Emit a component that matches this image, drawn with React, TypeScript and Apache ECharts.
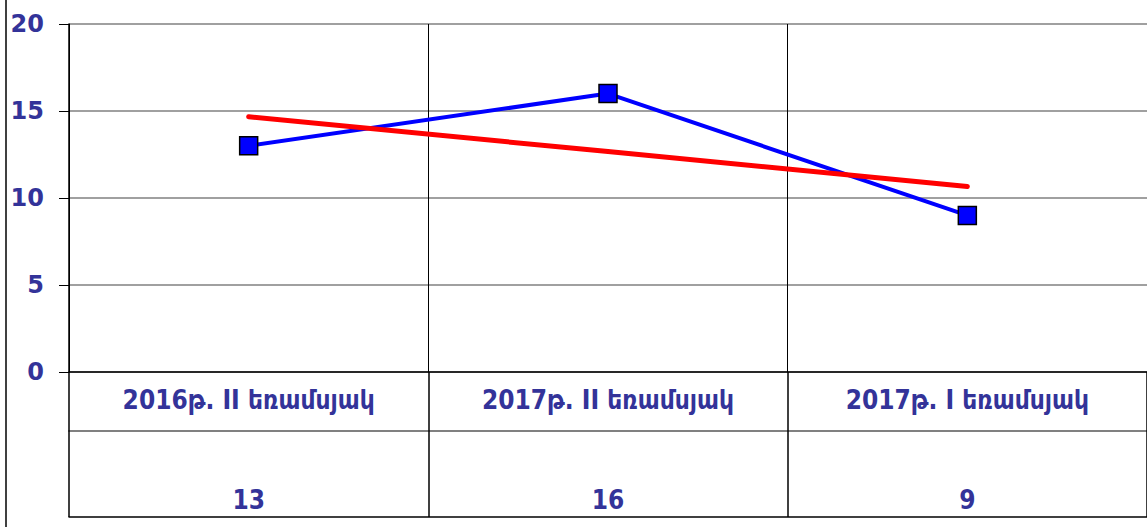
import React, { useEffect, useRef } from "react";
import * as echarts from "echarts";

// Reporting periods and the count recorded in each
const categories = ["2016թ. II եռամսյակ", "2017թ. II եռամսյակ", "2017թ. I եռամսյակ"];
const values = [13, 16, 9];

// Y axis range
const yMin = 0;
const yMax = 20;
const yStep = 5;

// Least-squares linear trend over the category index
function linearTrend(ys: number[]): number[] {
  const n = ys.length;
  const xs = ys.map((_, i) => i);
  const mx = xs.reduce((a, b) => a + b, 0) / n;
  const my = ys.reduce((a, b) => a + b, 0) / n;
  let num = 0;
  let den = 0;
  for (let i = 0; i < n; i++) {
    num += (xs[i] - mx) * (ys[i] - my);
    den += (xs[i] - mx) * (xs[i] - mx);
  }
  const slope = num / den;
  const icpt = my - slope * mx;
  return xs.map((x) => +(icpt + slope * x).toFixed(3));
}

const W = 1147;
const H = 527;
const GRID_LEFT = 69;
const GRID_TOP = 24;
const GRID_W = 1083;
const GRID_H = 348;
const ROW1 = 59; // height of the category row under the plot
const TABLE_H = 145; // full height of the data table

const labelColor = "#333399";
const fontFamily = "'DejaVu Sans Condensed', 'DejaVu Sans', sans-serif";

export default function App() {
  const ref = useRef<HTMLDivElement>(null);

  useEffect(() => {
    if (!ref.current) return;
    const chart = echarts.init(ref.current, undefined, { renderer: "svg" });
    const trend = linearTrend(values);

    chart.setOption({
      animation: false,
      backgroundColor: "#ffffff",
      grid: { left: GRID_LEFT, top: GRID_TOP, width: GRID_W, height: GRID_H, containLabel: false },
      xAxis: [
        {
          type: "category",
          data: categories,
          position: "bottom",
          boundaryGap: true,
          axisLine: { show: true, lineStyle: { color: "#000", width: 1.5 } },
          axisTick: { show: true, inside: false, length: TABLE_H, lineStyle: { color: "#000", width: 1.5 } },
          splitLine: { show: true, lineStyle: { color: "#000", width: 1 } },
          axisLabel: {
            margin: 15,
            color: labelColor,
            fontFamily,
            fontWeight: "bold",
            fontSize: 26,
          },
        },
        {
          type: "category",
          data: categories,
          position: "bottom",
          offset: ROW1,
          axisLine: { show: true, lineStyle: { color: "#808080", width: 2 } },
          axisTick: { show: false },
          axisLabel: { show: false },
        },
        {
          type: "category",
          data: categories,
          position: "bottom",
          offset: TABLE_H,
          axisLine: { show: true, lineStyle: { color: "#000", width: 1.5 } },
          axisTick: { show: false },
          axisLabel: {
            inside: true,
            margin: 4,
            color: labelColor,
            fontFamily,
            fontWeight: "bold",
            fontSize: 26,
            formatter: (_v: string, i: number) => String(values[i]),
          },
        },
      ],
      yAxis: {
        type: "value",
        min: yMin,
        max: yMax,
        interval: yStep,
        axisLine: { show: true, lineStyle: { color: "#000", width: 1.5 } },
        axisTick: { show: true, inside: false, length: 10, lineStyle: { color: "#000", width: 1 } },
        splitLine: { show: true, lineStyle: { color: "#808080", width: 1.5 } },
        axisLabel: {
          margin: 25,
          color: labelColor,
          fontFamily: "'DejaVu Sans', sans-serif",
          fontWeight: "bold",
          fontSize: 24,
        },
      },
      series: [
        {
          type: "line",
          data: values,
          xAxisIndex: 0,
          symbol: "rect",
          symbolSize: 18,
          lineStyle: { color: "#0000ff", width: 4 },
          itemStyle: { color: "#0000ff", borderColor: "#000", borderWidth: 1.5 },
          z: 3,
        },
        {
          type: "line",
          data: trend,
          xAxisIndex: 0,
          symbol: "none",
          lineStyle: { color: "#ff0000", width: 5, cap: "round" },
          z: 4,
        },
      ],
      graphic: [
        {
          type: "line",
          shape: { x1: 6, y1: 0, x2: 6, y2: H },
          style: { stroke: "#000", lineWidth: 1.5 },
        },
      ],
    });

    return () => chart.dispose();
  }, []);

  return (
    <div
      ref={ref}
      style={{ position: "fixed", left: 0, top: 0, width: W, height: H }}
    />
  );
}
